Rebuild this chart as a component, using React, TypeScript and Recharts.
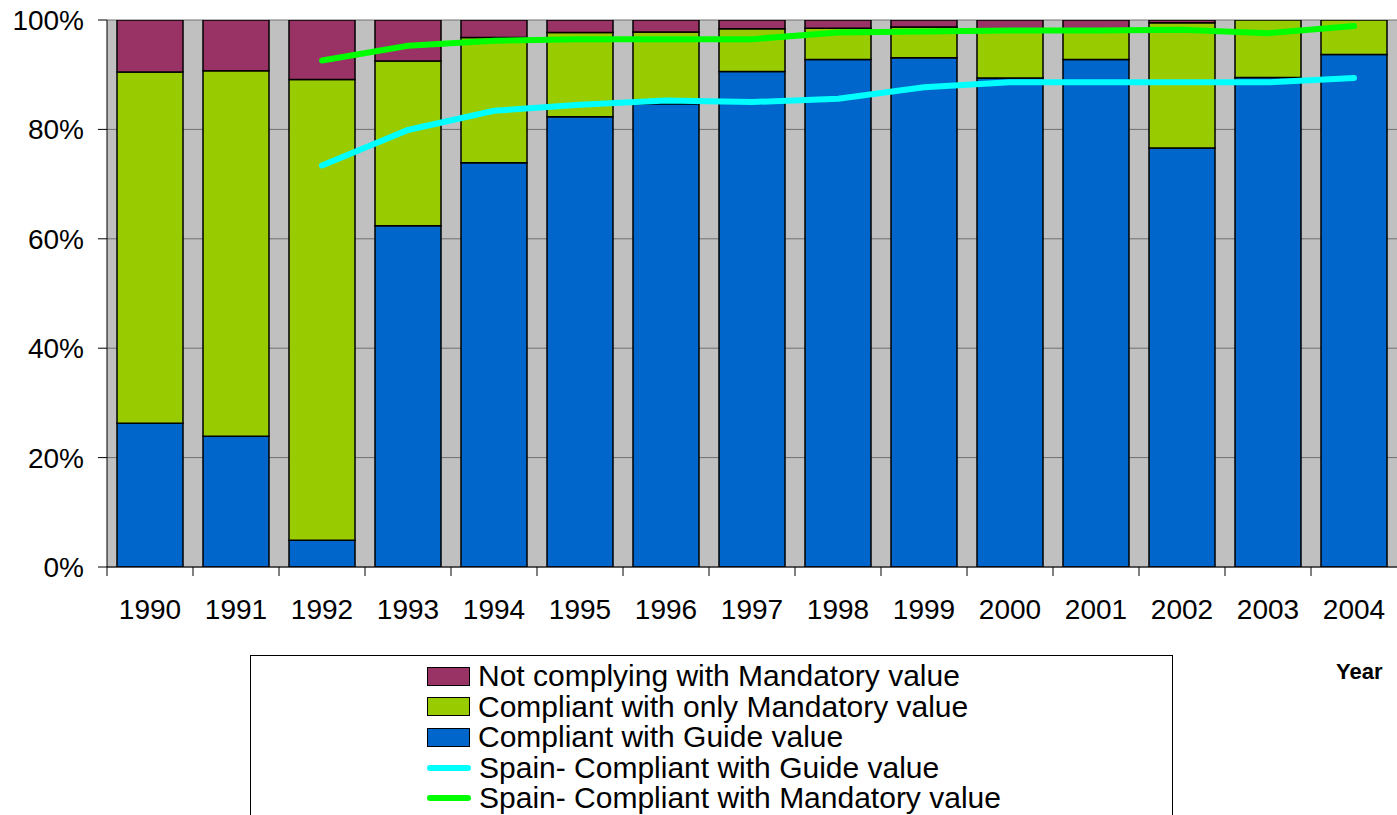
import React from 'react';
import { ComposedChart, Bar, Line, XAxis, YAxis, CartesianGrid } from 'recharts';

const years = ['1990', '1991', '1992', '1993', '1994', '1995', '1996', '1997', '1998', '1999', '2000', '2001', '2002', '2003', '2004'];
// Share compliant with guide value (%)
const guideValues = [26.3, 23.9, 4.9, 62.4, 73.9, 82.3, 84.7, 90.6, 92.8, 93.1, 89.4, 92.8, 76.6, 89.5, 93.7];
// Share compliant with mandatory value (%) (guide + only mandatory)
const mandatoryValues = [90.5, 90.7, 89.1, 92.5, 96.8, 97.7, 97.8, 98.4, 98.5, 98.7, 98.2, 98.2, 99.5, 100, 100];
const spainGuide: (number | null)[] = [null, null, 73.4, 79.9, 83.4, 84.5, 85.3, 85.0, 85.6, 87.7, 88.6, 88.6, 88.6, 88.6, 89.4];
const spainMandatory: (number | null)[] = [null, null, 92.6, 95.3, 96.2, 96.5, 96.5, 96.5, 97.7, 97.9, 98.1, 98.1, 98.2, 97.6, 98.9];
const yTicks = [0, 20, 40, 60, 80, 100];

const legendLabels = [
  'Not complying with Mandatory value',
  'Compliant with only Mandatory value',
  'Compliant with Guide value',
  'Spain- Compliant with Guide value',
  'Spain- Compliant with Mandatory value',
];

const C_RED = '#993366';
const C_GREEN = '#99CC00';
const C_BLUE = '#0066CC';
const C_CYAN = '#00FFFF';
const C_LIME = '#00FF00';
const FONT = '"Liberation Sans", Arial, sans-serif';

const data = years.map((y, i) => ({
  year: y,
  guide: guideValues[i],
  onlyMandatory: +(mandatoryValues[i] - guideValues[i]).toFixed(2),
  notComplying: +(100 - mandatoryValues[i]).toFixed(2),
  spainGuide: spainGuide[i],
  spainMandatory: spainMandatory[i],
}));

const XTick = (props: any) => {
  const { x, y, payload } = props;
  return (
    <g>
      <line x1={x - 43} x2={x - 43} y1={y} y2={y + 9} stroke="#000" strokeWidth={1} />
      <text x={x} y={y + 52} textAnchor="middle" fontSize={28} fontFamily={FONT} fill="#000">
        {payload.value}
      </text>
    </g>
  );
};

export default function App() {
  const swatchColors = [C_RED, C_GREEN, C_BLUE];
  const lineColors = [C_CYAN, C_LIME];
  return (
    <div style={{ position: 'absolute', left: 0, top: 0, width: 1397, height: 815, overflow: 'hidden', background: '#fff' }}>
      <ComposedChart
        width={1397}
        height={815}
        data={data}
        margin={{ top: 20, right: 0, left: 0, bottom: 0 }}
        barCategoryGap={10}
      >
        <CartesianGrid horizontal vertical={false} stroke="#707070" fill="#C0C0C0" />
        <XAxis
          dataKey="year"
          height={248}
          axisLine={{ stroke: '#000', strokeWidth: 1 }}
          tickLine={false}
          tickSize={0}
          tickMargin={0}
          tick={<XTick />}
          interval={0}
        />
        <YAxis
          width={107}
          domain={[0, 100]}
          ticks={yTicks}
          tickFormatter={(v: number) => `${v}%`}
          axisLine={{ stroke: '#000', strokeWidth: 1 }}
          tickLine={{ stroke: '#000' }}
          tickSize={9}
          tickMargin={14}
          tick={{ fontSize: 28, fontFamily: FONT, fill: '#000' }}
          allowDataOverflow
        />
        <Bar dataKey="guide" stackId="a" fill={C_BLUE} stroke="#000" strokeWidth={1.5} isAnimationActive={false} />
        <Bar dataKey="onlyMandatory" stackId="a" fill={C_GREEN} stroke="#000" strokeWidth={1.5} isAnimationActive={false} />
        <Bar dataKey="notComplying" stackId="a" fill={C_RED} stroke="#000" strokeWidth={1.5} isAnimationActive={false} />
        <Line dataKey="spainGuide" type="linear" stroke={C_CYAN} strokeWidth={6} strokeLinecap="round" dot={false} isAnimationActive={false} />
        <Line dataKey="spainMandatory" type="linear" stroke={C_LIME} strokeWidth={6} strokeLinecap="round" dot={false} isAnimationActive={false} />
      </ComposedChart>

      <div
        style={{
          position: 'absolute',
          left: 250,
          top: 655,
          width: 921,
          height: 200,
          borderLeft: '1px solid #000',
          borderTop: '1px solid #000',
          borderRight: '1px solid #000',
          background: '#fff',
          fontFamily: FONT,
        }}
      >
        {legendLabels.map((label, i) => (
          <div
            key={label}
            style={{ position: 'absolute', left: 176, top: 5 + i * 30.5, height: 30, display: 'flex', alignItems: 'center', whiteSpace: 'nowrap' }}
          >
            {i < 3 ? (
              <div style={{ width: 41, height: 17, background: swatchColors[i], border: '1.5px solid #000' }} />
            ) : (
              <div style={{ width: 44, height: 6, background: lineColors[i - 3], borderRadius: 3 }} />
            )}
            <span style={{ marginLeft: 8, fontSize: 30, color: '#000', lineHeight: '30px' }}>{label}</span>
          </div>
        ))}
      </div>

      <div style={{ position: 'absolute', left: 1336, top: 659, fontFamily: FONT, fontWeight: 'bold', fontSize: 22, color: '#000' }}>Year</div>
    </div>
  );
}
